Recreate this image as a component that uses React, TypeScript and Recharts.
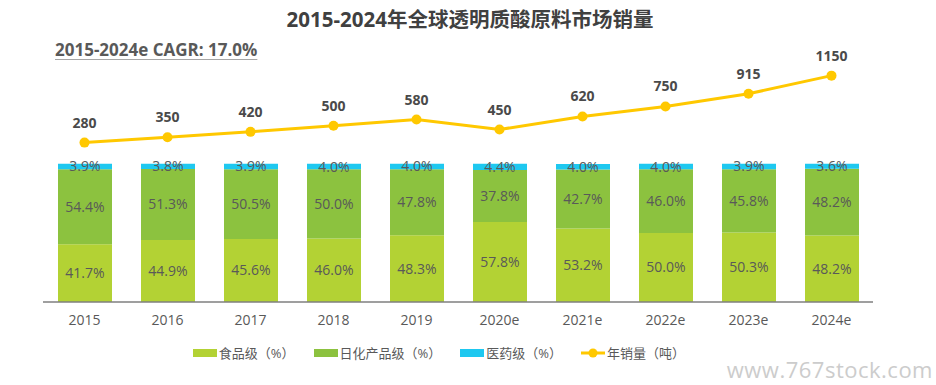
import { ComposedChart, XAxis, YAxis, Bar, Line, LabelList } from "recharts";

const years = ["2015", "2016", "2017", "2018", "2019", "2020e", "2021e", "2022e", "2023e", "2024e"];
const foodGrade = [41.7, 44.9, 45.6, 46.0, 48.3, 57.8, 53.2, 50.0, 50.3, 48.2];
const cosmeticGrade = [54.4, 51.3, 50.5, 50.0, 47.8, 37.8, 42.7, 46.0, 45.8, 48.2];
const medicalGrade = [3.9, 3.8, 3.9, 4.0, 4.0, 4.4, 4.0, 4.0, 3.9, 3.6];
const salesTons = [280, 350, 420, 500, 580, 450, 620, 750, 915, 1150];

const FOOD = "#B3D234";
const COSMETIC = "#8CC23F";
const MEDICAL = "#1EC8F0";
const LINE = "#FFC800";
const FONT = "'Open Sans', 'Noto Sans CJK SC', sans-serif";

const data = years.map((year, i) => ({
  year,
  food: foodGrade[i],
  cosmetic: cosmeticGrade[i],
  medical: medicalGrade[i],
  sales: salesTons[i],
}));

const pct = (v: any) => `${Number(v).toFixed(1)}%`;

const legendItems = [
  { label: "食品级（%）", color: FOOD, type: "rect" },
  { label: "日化产品级（%）", color: COSMETIC, type: "rect" },
  { label: "医药级（%）", color: MEDICAL, type: "rect" },
  { label: "年销量（吨）", color: LINE, type: "line" },
];

const App = () => {
  return (
    <div style={{ position: "relative", width: 936, height: 385, fontFamily: FONT, background: "#fff", overflow: "hidden" }}>
      <style>{"body{margin:0}"}</style>
      <div
        style={{
          position: "absolute", top: 3, left: 0, width: 940, textAlign: "center",
          fontSize: 20.5, fontWeight: 700, color: "#404040",
        }}
      >
        2015-2024年全球透明质酸原料市场销量
      </div>
      <div
        style={{
          position: "absolute", top: 38, left: 55, fontSize: 17, fontWeight: 700,
          color: "#595959", textDecoration: "underline", textDecorationColor: "#a6a6a6",
          textUnderlineOffset: 3,
        }}
      >
        2015-2024e CAGR: 17.0%
      </div>

      <ComposedChart
        width={936}
        height={385}
        data={data}
        margin={{ top: 56, right: 63, left: 43, bottom: 53 }}
      >
        <XAxis
          dataKey="year"
          axisLine={{ stroke: "#7f7f7f", strokeWidth: 1.5 }}
          tickLine={false}
          tickMargin={7}
          tick={{ fill: "#595959", fontSize: 14, fontFamily: FONT }}
        />
        <YAxis yAxisId="pct" hide domain={[0, 178]} allowDataOverflow />
        <YAxis yAxisId="ton" hide orientation="right" domain={[-1790, 1405]} allowDataOverflow />
        <Bar dataKey="food" stackId="s" yAxisId="pct" fill={FOOD} barSize={54} isAnimationActive={false}>
          <LabelList dataKey="food" position="center" formatter={pct} fill="#595959" fontSize={14} fontFamily={FONT} />
        </Bar>
        <Bar dataKey="cosmetic" stackId="s" yAxisId="pct" fill={COSMETIC} barSize={54} isAnimationActive={false}>
          <LabelList dataKey="cosmetic" position="center" formatter={pct} fill="#595959" fontSize={14} fontFamily={FONT} />
        </Bar>
        <Bar dataKey="medical" stackId="s" yAxisId="pct" fill={MEDICAL} barSize={54} isAnimationActive={false}>
          <LabelList dataKey="medical" position="center" formatter={pct} fill="#595959" fontSize={14} fontFamily={FONT} />
        </Bar>
        <Line
          dataKey="sales"
          yAxisId="ton"
          stroke={LINE}
          strokeWidth={3}
          dot={{ r: 5, fill: LINE, stroke: LINE, strokeWidth: 0 }}
          isAnimationActive={false}
        >
          <LabelList dataKey="sales" position="top" offset={15} fill="#4a4a4a" fontSize={14} fontWeight={700} fontFamily={FONT} />
        </Line>
      </ComposedChart>

      <div
        style={{
          position: "absolute", top: 343, left: 0, width: 878, display: "flex",
          justifyContent: "center", alignItems: "center", gap: 19, fontSize: 13, color: "#595959",
        }}
      >
        {legendItems.map((item) => (
          <div key={item.label} style={{ display: "flex", alignItems: "center", gap: 2 }}>
            {item.type === "rect" ? (
              <span style={{ display: "inline-block", width: 24, height: 8, background: item.color }} />
            ) : (
              <svg width={24} height={12}>
                <line x1={0} y1={6} x2={24} y2={6} stroke={item.color} strokeWidth={3} />
                <circle cx={12} cy={6} r={4.5} fill={item.color} />
              </svg>
            )}
            <span>{item.label}</span>
          </div>
        ))}
      </div>

      <div
        style={{
          position: "absolute", top: 356, right: 3, fontSize: 22, lineHeight: "26px", color: "#cccccc",
          letterSpacing: 0.5,
        }}
      >
        www.767stock.com
      </div>
    </div>
  );
};

export default App;
